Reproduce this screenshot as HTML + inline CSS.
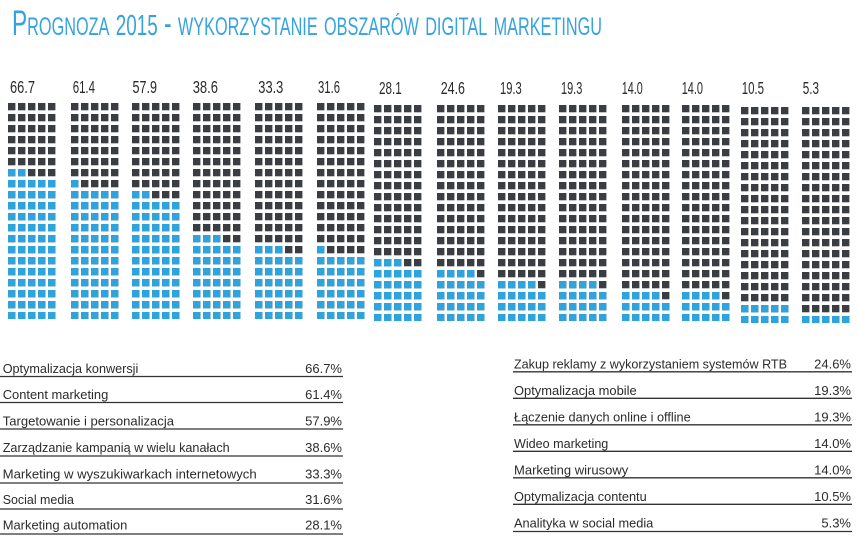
<!DOCTYPE html>
<html>
<head>
<meta charset="utf-8">
<style>
html,body{margin:0;padding:0;background:#fff;}
svg{display:block;}
.t{font-family:"Liberation Sans","DejaVu Sans",sans-serif;}
.title{font-variant:small-caps;}
</style>
</head>
<body>
<svg width="858" height="543" viewBox="0 0 858 543" xmlns="http://www.w3.org/2000/svg">
<defs>
<pattern id="pd" width="10" height="11" patternUnits="userSpaceOnUse"><rect width="7.4" height="7.3" fill="#3a3d41"/></pattern>
<pattern id="pb" width="10" height="11" patternUnits="userSpaceOnUse"><rect width="7.4" height="7.3" fill="#2fa3dc"/></pattern>
</defs>

<!-- Title -->
<text class="t title" x="12" y="35" font-size="35" fill="#36a3dc" textLength="590" lengthAdjust="spacingAndGlyphs">Prognoza <tspan font-size="29">2015</tspan> - wykorzystanie obszarów digital marketingu</text>

<!-- Grid labels -->
<g class="t" font-size="17.5" fill="#2a2a2a">
<text x="10" y="93" textLength="25" lengthAdjust="spacingAndGlyphs">66.7</text>
<text x="72.7" y="93" textLength="22.3" lengthAdjust="spacingAndGlyphs">61.4</text>
<text x="132.5" y="93" textLength="24.5" lengthAdjust="spacingAndGlyphs">57.9</text>
<text x="192.7" y="93" textLength="25.3" lengthAdjust="spacingAndGlyphs">38.6</text>
<text x="258.3" y="93" textLength="25" lengthAdjust="spacingAndGlyphs">33.3</text>
<text x="318" y="93" textLength="22" lengthAdjust="spacingAndGlyphs">31.6</text>
<text x="379" y="94" textLength="22.7" lengthAdjust="spacingAndGlyphs">28.1</text>
<text x="440.7" y="94" textLength="24.3" lengthAdjust="spacingAndGlyphs">24.6</text>
<text x="500" y="94" textLength="21.7" lengthAdjust="spacingAndGlyphs">19.3</text>
<text x="561" y="94" textLength="21.3" lengthAdjust="spacingAndGlyphs">19.3</text>
<text x="621.7" y="94" textLength="21" lengthAdjust="spacingAndGlyphs">14.0</text>
<text x="681.7" y="94" textLength="21.3" lengthAdjust="spacingAndGlyphs">14.0</text>
<text x="741.7" y="94" textLength="22.3" lengthAdjust="spacingAndGlyphs">10.5</text>
<text x="802.7" y="94" textLength="16.3" lengthAdjust="spacingAndGlyphs">5.3</text>
</g>

<!-- Waffle grids -->
<g transform="translate(8,103)"><rect width="48" height="216" fill="url(#pd)"/><rect y="77" width="48" height="139" fill="url(#pb)"/><rect y="66" width="20" height="9" fill="url(#pb)"/></g>
<g transform="translate(71,103)"><rect width="48" height="216" fill="url(#pd)"/><rect y="88" width="48" height="128" fill="url(#pb)"/><rect y="77" width="10" height="9" fill="url(#pb)"/></g>
<g transform="translate(132,103)"><rect width="48" height="216" fill="url(#pd)"/><rect y="99" width="48" height="117" fill="url(#pb)"/><rect y="88" width="20" height="9" fill="url(#pb)"/></g>
<g transform="translate(193,103)"><rect width="48" height="216" fill="url(#pd)"/><rect y="143" width="48" height="73" fill="url(#pb)"/><rect y="132" width="30" height="9" fill="url(#pb)"/></g>
<g transform="translate(255,103)"><rect width="48" height="216" fill="url(#pd)"/><rect y="154" width="48" height="62" fill="url(#pb)"/><rect y="143" width="30" height="9" fill="url(#pb)"/></g>
<g transform="translate(317,103)"><rect width="48" height="216" fill="url(#pd)"/><rect y="154" width="48" height="62" fill="url(#pb)"/><rect y="143" width="10" height="9" fill="url(#pb)"/></g>
<g transform="translate(374,105)"><rect width="48" height="216" fill="url(#pd)"/><rect y="165" width="48" height="51" fill="url(#pb)"/><rect y="154" width="30" height="9" fill="url(#pb)"/></g>
<g transform="translate(437,105)"><rect width="48" height="216" fill="url(#pd)"/><rect y="176" width="48" height="40" fill="url(#pb)"/><rect y="165" width="40" height="9" fill="url(#pb)"/></g>
<g transform="translate(498,105)"><rect width="48" height="216" fill="url(#pd)"/><rect y="187" width="48" height="29" fill="url(#pb)"/><rect y="176" width="40" height="9" fill="url(#pb)"/></g>
<g transform="translate(559,105)"><rect width="48" height="216" fill="url(#pd)"/><rect y="187" width="48" height="29" fill="url(#pb)"/><rect y="176" width="40" height="9" fill="url(#pb)"/></g>
<g transform="translate(622,105)"><rect width="48" height="216" fill="url(#pd)"/><rect y="198" width="48" height="18" fill="url(#pb)"/><rect y="187" width="40" height="9" fill="url(#pb)"/></g>
<g transform="translate(682,105)"><rect width="48" height="216" fill="url(#pd)"/><rect y="198" width="48" height="18" fill="url(#pb)"/><rect y="187" width="40" height="9" fill="url(#pb)"/></g>
<g transform="translate(741,107)"><rect width="48" height="216" fill="url(#pd)"/><rect y="198" width="48" height="18" fill="url(#pb)"/></g>
<g transform="translate(802,107)"><rect width="48" height="216" fill="url(#pd)"/><rect y="209" width="48" height="7" fill="url(#pb)"/></g>

<!-- Left legend -->
<g stroke="#333" stroke-width="1.3">
<line x1="0" y1="376.5" x2="343" y2="376.5"/>
<line x1="0" y1="402.5" x2="343" y2="402.5"/>
<line x1="0" y1="429" x2="343" y2="429"/>
<line x1="0" y1="456" x2="343" y2="456"/>
<line x1="0" y1="483" x2="343" y2="483"/>
<line x1="0" y1="509" x2="343" y2="509"/>
<line x1="0" y1="534" x2="343" y2="534"/>
</g>
<g class="t" font-size="13" fill="#2b2b2b">
<text x="2.7" y="373" textLength="135.6" lengthAdjust="spacingAndGlyphs">Optymalizacja konwersji</text>
<text x="2.7" y="399" textLength="105.6" lengthAdjust="spacingAndGlyphs">Content marketing</text>
<text x="2.7" y="425.3" textLength="171.3" lengthAdjust="spacingAndGlyphs">Targetowanie i personalizacja</text>
<text x="2.7" y="452" textLength="227" lengthAdjust="spacingAndGlyphs">Zarządzanie kampanią w wielu kanałach</text>
<text x="2.7" y="478.5" textLength="254" lengthAdjust="spacingAndGlyphs">Marketing w wyszukiwarkach internetowych</text>
<text x="2.7" y="504" textLength="71.3" lengthAdjust="spacingAndGlyphs">Social media</text>
<text x="2.7" y="529.5" textLength="124.6" lengthAdjust="spacingAndGlyphs">Marketing automation</text>
</g>
<g class="t" font-size="13" fill="#2b2b2b" text-anchor="end">
<text x="342" y="373">66.7%</text>
<text x="342" y="399">61.4%</text>
<text x="342" y="425.3">57.9%</text>
<text x="342" y="452">38.6%</text>
<text x="342" y="478.5">33.3%</text>
<text x="342" y="504">31.6%</text>
<text x="342" y="529.5">28.1%</text>
</g>

<!-- Right legend -->
<g stroke="#333" stroke-width="1.3">
<line x1="513" y1="371.8" x2="852" y2="371.8"/>
<line x1="513" y1="398.3" x2="852" y2="398.3"/>
<line x1="513" y1="424.8" x2="852" y2="424.8"/>
<line x1="513" y1="451.3" x2="852" y2="451.3"/>
<line x1="513" y1="477.8" x2="852" y2="477.8"/>
<line x1="513" y1="504.3" x2="852" y2="504.3"/>
<line x1="513" y1="531.5" x2="852" y2="531.5"/>
</g>
<g class="t" font-size="13" fill="#2b2b2b">
<text x="514" y="368.3" textLength="273" lengthAdjust="spacingAndGlyphs">Zakup reklamy z wykorzystaniem systemów RTB</text>
<text x="514" y="394.8" textLength="122.7" lengthAdjust="spacingAndGlyphs">Optymalizacja mobile</text>
<text x="514" y="421.3" textLength="176.7" lengthAdjust="spacingAndGlyphs">Łączenie danych online i offline</text>
<text x="514" y="447.8" textLength="94.3" lengthAdjust="spacingAndGlyphs">Wideo marketing</text>
<text x="514" y="474.3" textLength="114.3" lengthAdjust="spacingAndGlyphs">Marketing wirusowy</text>
<text x="514" y="500.8" textLength="132.7" lengthAdjust="spacingAndGlyphs">Optymalizacja contentu</text>
<text x="514" y="527.5" textLength="139.3" lengthAdjust="spacingAndGlyphs">Analityka w social media</text>
</g>
<g class="t" font-size="13" fill="#2b2b2b" text-anchor="end">
<text x="851" y="368.3">24.6%</text>
<text x="851" y="394.8">19.3%</text>
<text x="851" y="421.3">19.3%</text>
<text x="851" y="447.8">14.0%</text>
<text x="851" y="474.3">14.0%</text>
<text x="851" y="500.8">10.5%</text>
<text x="851" y="527.5">5.3%</text>
</g>
</svg>
</body>
</html>
